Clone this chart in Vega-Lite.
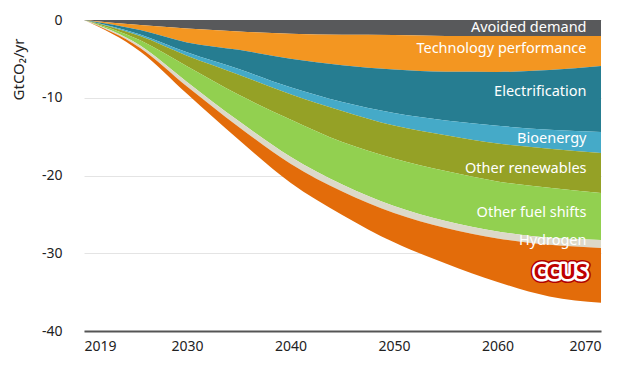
{
  "$schema": "https://vega.github.io/schema/vega-lite/v6.json",
  "width": 524,
  "height": 311,
  "autosize": {"type": "none"},
  "padding": {"left": 77, "top": 20, "right": 35, "bottom": 39},
  "background": "white",
  "config": {"view": {"stroke": null}, "font": "Noto Sans"},
  "datasets": {
    "series": [
      {"year": 2019, "source": "Avoided demand", "k": 1, "v": 0},
      {"year": 2019, "source": "Technology performance", "k": 2, "v": 0},
      {"year": 2019, "source": "Electrification", "k": 3, "v": 0},
      {"year": 2019, "source": "Bioenergy", "k": 4, "v": 0},
      {"year": 2019, "source": "Other renewables", "k": 5, "v": 0},
      {"year": 2019, "source": "Other fuel shifts", "k": 6, "v": 0},
      {"year": 2019, "source": "Hydrogen", "k": 7, "v": 0},
      {"year": 2019, "source": "CCUS", "k": 8, "v": 0},
      {"year": 2025, "source": "Avoided demand", "k": 1, "v": -0.65},
      {"year": 2025, "source": "Technology performance", "k": 2, "v": -0.65},
      {"year": 2025, "source": "Electrification", "k": 3, "v": -0.55},
      {"year": 2025, "source": "Bioenergy", "k": 4, "v": -0.22},
      {"year": 2025, "source": "Other renewables", "k": 5, "v": -0.55},
      {"year": 2025, "source": "Other fuel shifts", "k": 6, "v": -0.65},
      {"year": 2025, "source": "Hydrogen", "k": 7, "v": -0.33},
      {"year": 2025, "source": "CCUS", "k": 8, "v": -0.44},
      {"year": 2030, "source": "Avoided demand", "k": 1, "v": -1.08},
      {"year": 2030, "source": "Technology performance", "k": 2, "v": -1.8},
      {"year": 2030, "source": "Electrification", "k": 3, "v": -1.26},
      {"year": 2030, "source": "Bioenergy", "k": 4, "v": -0.46},
      {"year": 2030, "source": "Other renewables", "k": 5, "v": -1.36},
      {"year": 2030, "source": "Other fuel shifts", "k": 6, "v": -2.0},
      {"year": 2030, "source": "Hydrogen", "k": 7, "v": -0.59},
      {"year": 2030, "source": "CCUS", "k": 8, "v": -0.93},
      {"year": 2035, "source": "Avoided demand", "k": 1, "v": -1.47},
      {"year": 2035, "source": "Technology performance", "k": 2, "v": -2.37},
      {"year": 2035, "source": "Electrification", "k": 3, "v": -2.47},
      {"year": 2035, "source": "Bioenergy", "k": 4, "v": -0.72},
      {"year": 2035, "source": "Other renewables", "k": 5, "v": -2.6},
      {"year": 2035, "source": "Other fuel shifts", "k": 6, "v": -3.37},
      {"year": 2035, "source": "Hydrogen", "k": 7, "v": -0.75},
      {"year": 2035, "source": "CCUS", "k": 8, "v": -1.66},
      {"year": 2040, "source": "Avoided demand", "k": 1, "v": -1.76},
      {"year": 2040, "source": "Technology performance", "k": 2, "v": -3.21},
      {"year": 2040, "source": "Electrification", "k": 3, "v": -3.69},
      {"year": 2040, "source": "Bioenergy", "k": 4, "v": -0.88},
      {"year": 2040, "source": "Other renewables", "k": 5, "v": -3.26},
      {"year": 2040, "source": "Other fuel shifts", "k": 6, "v": -4.8},
      {"year": 2040, "source": "Hydrogen", "k": 7, "v": -0.88},
      {"year": 2040, "source": "CCUS", "k": 8, "v": -2.45},
      {"year": 2045, "source": "Avoided demand", "k": 1, "v": -1.91},
      {"year": 2045, "source": "Technology performance", "k": 2, "v": -3.9},
      {"year": 2045, "source": "Electrification", "k": 3, "v": -4.75},
      {"year": 2045, "source": "Bioenergy", "k": 4, "v": -1.13},
      {"year": 2045, "source": "Other renewables", "k": 5, "v": -4.01},
      {"year": 2045, "source": "Other fuel shifts", "k": 6, "v": -5.46},
      {"year": 2045, "source": "Hydrogen", "k": 7, "v": -0.9},
      {"year": 2045, "source": "CCUS", "k": 8, "v": -3.01},
      {"year": 2050, "source": "Avoided demand", "k": 1, "v": -1.93},
      {"year": 2050, "source": "Technology performance", "k": 2, "v": -4.45},
      {"year": 2050, "source": "Electrification", "k": 3, "v": -5.58},
      {"year": 2050, "source": "Bioenergy", "k": 4, "v": -1.62},
      {"year": 2050, "source": "Other renewables", "k": 5, "v": -4.23},
      {"year": 2050, "source": "Other fuel shifts", "k": 6, "v": -6.11},
      {"year": 2050, "source": "Hydrogen", "k": 7, "v": -0.9},
      {"year": 2050, "source": "CCUS", "k": 8, "v": -3.78},
      {"year": 2055, "source": "Avoided demand", "k": 1, "v": -2.05},
      {"year": 2055, "source": "Technology performance", "k": 2, "v": -4.62},
      {"year": 2055, "source": "Electrification", "k": 3, "v": -6.25},
      {"year": 2055, "source": "Bioenergy", "k": 4, "v": -1.91},
      {"year": 2055, "source": "Other renewables", "k": 5, "v": -4.6},
      {"year": 2055, "source": "Other fuel shifts", "k": 6, "v": -6.41},
      {"year": 2055, "source": "Hydrogen", "k": 7, "v": -0.9},
      {"year": 2055, "source": "CCUS", "k": 8, "v": -4.57},
      {"year": 2060, "source": "Avoided demand", "k": 1, "v": -2.06},
      {"year": 2060, "source": "Technology performance", "k": 2, "v": -4.63},
      {"year": 2060, "source": "Electrification", "k": 3, "v": -6.91},
      {"year": 2060, "source": "Bioenergy", "k": 4, "v": -2.29},
      {"year": 2060, "source": "Other renewables", "k": 5, "v": -4.87},
      {"year": 2060, "source": "Other fuel shifts", "k": 6, "v": -6.43},
      {"year": 2060, "source": "Hydrogen", "k": 7, "v": -0.9},
      {"year": 2060, "source": "CCUS", "k": 8, "v": -5.61},
      {"year": 2065, "source": "Avoided demand", "k": 1, "v": -2.06},
      {"year": 2065, "source": "Technology performance", "k": 2, "v": -4.38},
      {"year": 2065, "source": "Electrification", "k": 3, "v": -7.69},
      {"year": 2065, "source": "Bioenergy", "k": 4, "v": -2.44},
      {"year": 2065, "source": "Other renewables", "k": 5, "v": -5.01},
      {"year": 2065, "source": "Other fuel shifts", "k": 6, "v": -6.43},
      {"year": 2065, "source": "Hydrogen", "k": 7, "v": -0.9},
      {"year": 2065, "source": "CCUS", "k": 8, "v": -6.65},
      {"year": 2070, "source": "Avoided demand", "k": 1, "v": -2.06},
      {"year": 2070, "source": "Technology performance", "k": 2, "v": -3.86},
      {"year": 2070, "source": "Electrification", "k": 3, "v": -8.48},
      {"year": 2070, "source": "Bioenergy", "k": 4, "v": -2.7},
      {"year": 2070, "source": "Other renewables", "k": 5, "v": -5.14},
      {"year": 2070, "source": "Other fuel shifts", "k": 6, "v": -6.04},
      {"year": 2070, "source": "Hydrogen", "k": 7, "v": -1.03},
      {"year": 2070, "source": "CCUS", "k": 8, "v": -7.07}
    ],
    "labels": [
      {"label": "Avoided demand", "year": 2068.6, "value": -1.03},
      {"label": "Technology performance", "year": 2068.6, "value": -3.73},
      {"label": "Electrification", "year": 2068.6, "value": -9.25},
      {"label": "Bioenergy", "year": 2068.6, "value": -15.3},
      {"label": "Other renewables", "year": 2068.6, "value": -19.15},
      {"label": "Other fuel shifts", "year": 2068.6, "value": -24.8},
      {"label": "Hydrogen", "year": 2068.6, "value": -28.4}
    ],
    "callout": [
      {"label": "CCUS", "year": 2068.7, "value": -32.5}
    ]
  },
  "layer": [
    {
      "data": {"name": "series"},
      "mark": {"type": "area", "interpolate": "monotone"},
      "encoding": {
        "x": {
          "field": "year",
          "type": "quantitative",
          "scale": {"domain": [2019, 2030, 2070], "range": [7, 110, 524], "nice": false, "zero": false},
          "axis": {
            "values": [2019, 2030, 2040, 2050, 2060, 2070],
            "format": "d",
            "grid": false,
            "ticks": false,
            "domain": true,
            "domainColor": "#555555",
            "domainWidth": 2,
            "labelFontSize": 14,
            "labelColor": "#222222",
            "labelPadding": 8,
            "title": null
          }
        },
        "y": {
          "field": "v",
          "type": "quantitative",
          "stack": "zero",
          "scale": {"domain": [-40, 0], "nice": false},
          "axis": {
            "values": [-40, -30, -20, -10, 0],
            "labelExpr": "toString(datum.value)",
            "grid": true,
            "gridColor": "#e4e4e4",
            "domain": false,
            "ticks": false,
            "labelFontSize": 14,
            "labelColor": "#222222",
            "labelPadding": 15,
            "title": "GtCO₂/yr",
            "titleFontSize": 15,
            "titleFontWeight": "normal",
            "titleColor": "#222222",
            "titleAngle": -90,
            "titleAlign": "center",
            "titleBaseline": "middle",
            "titleX": -59,
            "titleY": 49
          }
        },
        "color": {
          "field": "source",
          "type": "nominal",
          "scale": {
            "domain": ["Avoided demand", "Technology performance", "Electrification", "Bioenergy", "Other renewables", "Other fuel shifts", "Hydrogen", "CCUS"],
            "range": ["#58595b", "#f39621", "#267d91", "#45aac8", "#95a126", "#92d050", "#dcd9c9", "#e36c0a"]
          },
          "legend": null
        },
        "order": {"field": "k", "type": "quantitative"}
      }
    },
    {
      "data": {"name": "labels"},
      "mark": {"type": "text", "align": "right", "baseline": "middle", "fontSize": 14.5, "color": "white"},
      "encoding": {
        "x": {"field": "year", "type": "quantitative"},
        "y": {"field": "value", "type": "quantitative"},
        "text": {"field": "label"}
      }
    },
    {
      "data": {"name": "callout"},
      "mark": {"type": "text", "align": "right", "baseline": "middle", "fontSize": 21, "fontWeight": "bold", "stroke": "#b00000", "strokeWidth": 8, "strokeJoin": "round", "color": "#b00000"},
      "encoding": {
        "x": {"field": "year", "type": "quantitative"},
        "y": {"field": "value", "type": "quantitative"},
        "text": {"field": "label"}
      }
    },
    {
      "data": {"name": "callout"},
      "mark": {"type": "text", "align": "right", "baseline": "middle", "fontSize": 21, "fontWeight": "bold", "stroke": "white", "strokeWidth": 5, "strokeJoin": "round", "color": "white"},
      "encoding": {
        "x": {"field": "year", "type": "quantitative"},
        "y": {"field": "value", "type": "quantitative"},
        "text": {"field": "label"}
      }
    },
    {
      "data": {"name": "callout"},
      "mark": {"type": "text", "align": "right", "baseline": "middle", "fontSize": 21, "fontWeight": "bold", "color": "#c00000"},
      "encoding": {
        "x": {"field": "year", "type": "quantitative"},
        "y": {"field": "value", "type": "quantitative"},
        "text": {"field": "label"}
      }
    }
  ]
}
